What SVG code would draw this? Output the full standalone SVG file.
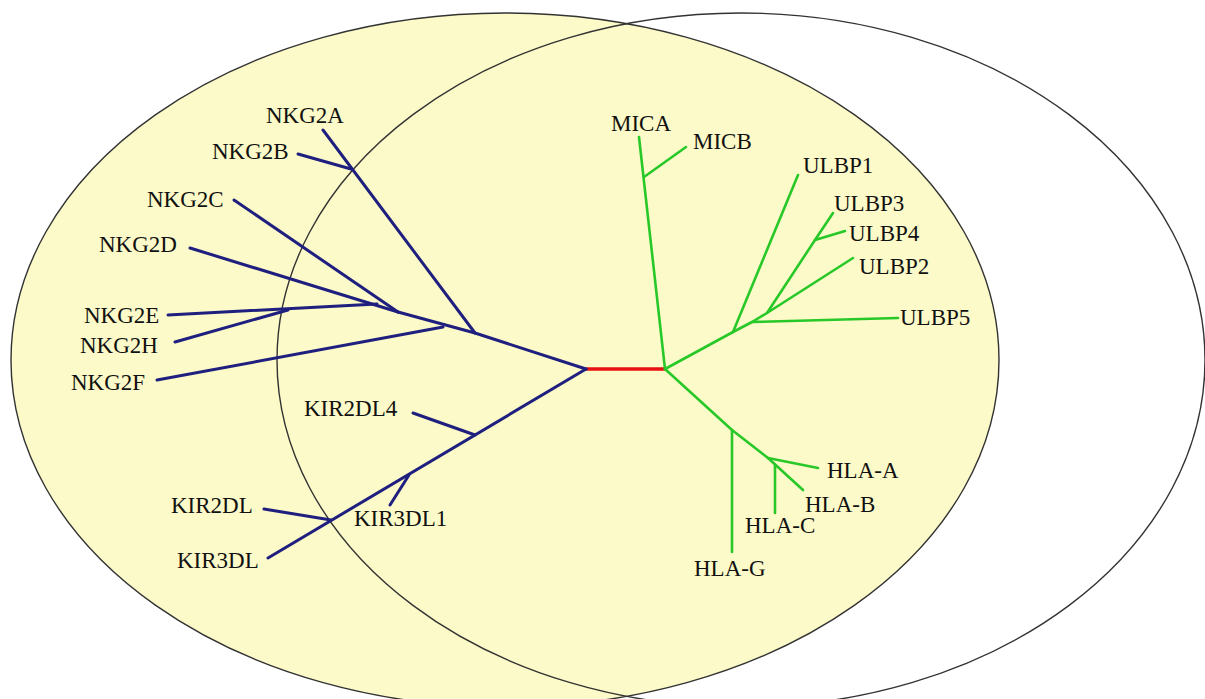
<svg xmlns="http://www.w3.org/2000/svg" width="1205" height="699" viewBox="0 0 1205 699">
<style>
.lbl{font-family:"Liberation Serif","Times New Roman",serif;font-size:23px;fill:#111}
.b{stroke:#1f1f7f;stroke-width:3;fill:none;stroke-linecap:round;stroke-linejoin:round}
.g{stroke:#28c828;stroke-width:2.6;fill:none;stroke-linecap:round;stroke-linejoin:round}
.r{stroke:#e81010;stroke-width:3.5;fill:none}
.ell{stroke:#333;stroke-width:1.4}
</style>
<rect width="1205" height="699" fill="#fff"/>
<g id="sets">
<ellipse id="setLeft" class="ell" cx="505" cy="360" rx="494" ry="347" fill="#fcfac8"/>
<ellipse id="setRight" class="ell" cx="741" cy="360" rx="464" ry="347" fill="none"/>
</g>
<g id="connectors">
<line class="r" x1="586" y1="369" x2="665" y2="369"/>
<polyline class="b" points="586,369 475,333 398,312"/>
<line class="b" x1="323" y1="130" x2="475" y2="333"/>
<line class="b" x1="298" y1="154" x2="351" y2="169"/>
<line class="b" x1="234" y1="200" x2="398" y2="312"/>
<line class="b" x1="190" y1="248" x2="398" y2="312"/>
<line class="b" x1="168" y1="315" x2="377" y2="304"/>
<line class="b" x1="175" y1="342" x2="288" y2="310"/>
<line class="b" x1="157" y1="380" x2="443" y2="327"/>
<line class="b" x1="586" y1="369" x2="268" y2="558"/>
<line class="b" x1="413" y1="413" x2="475" y2="435"/>
<line class="b" x1="390" y1="505" x2="409" y2="475"/>
<line class="b" x1="264" y1="509" x2="331" y2="520"/>
<line class="g" x1="665" y1="369" x2="639" y2="137"/>
<line class="g" x1="644" y1="177" x2="686" y2="147"/>
<polyline class="g" points="665,369 733,332 752,322 767,313 815,240 833,213"/>
<line class="g" x1="733" y1="332" x2="798" y2="175"/>
<line class="g" x1="752" y1="322" x2="898" y2="318"/>
<line class="g" x1="767" y1="313" x2="853" y2="258"/>
<line class="g" x1="815" y1="240" x2="845" y2="231"/>
<polyline class="g" points="665,369 732,430 768,458 818,468"/>
<line class="g" x1="768" y1="458" x2="803" y2="490"/>
<line class="g" x1="732" y1="430" x2="732" y2="552"/>
<line class="g" x1="775" y1="465" x2="775" y2="513"/>
</g>
<g id="n-NKG2A"><text class="lbl" x="266" y="123">NKG2A</text></g>
<g id="n-NKG2B"><text class="lbl" x="212" y="159">NKG2B</text></g>
<g id="n-NKG2C"><text class="lbl" x="147" y="207">NKG2C</text></g>
<g id="n-NKG2D"><text class="lbl" x="99" y="252">NKG2D</text></g>
<g id="n-NKG2E"><text class="lbl" x="84" y="323">NKG2E</text></g>
<g id="n-NKG2H"><text class="lbl" x="80" y="353">NKG2H</text></g>
<g id="n-NKG2F"><text class="lbl" x="71" y="390">NKG2F</text></g>
<g id="n-KIR2DL4"><text class="lbl" x="304" y="416">KIR2DL4</text></g>
<g id="n-KIR2DL"><text class="lbl" x="171" y="513">KIR2DL</text></g>
<g id="n-KIR3DL1"><text class="lbl" x="354" y="526">KIR3DL1</text></g>
<g id="n-KIR3DL"><text class="lbl" x="177" y="568">KIR3DL</text></g>
<g id="n-MICA"><text class="lbl" x="611" y="131">MICA</text></g>
<g id="n-MICB"><text class="lbl" x="693" y="149">MICB</text></g>
<g id="n-ULBP1"><text class="lbl" x="803" y="173">ULBP1</text></g>
<g id="n-ULBP3"><text class="lbl" x="834" y="211">ULBP3</text></g>
<g id="n-ULBP4"><text class="lbl" x="849" y="241">ULBP4</text></g>
<g id="n-ULBP2"><text class="lbl" x="859" y="274">ULBP2</text></g>
<g id="n-ULBP5"><text class="lbl" x="900" y="325">ULBP5</text></g>
<g id="n-HLA-A"><text class="lbl" x="827" y="478">HLA-A</text></g>
<g id="n-HLA-B"><text class="lbl" x="805" y="512">HLA-B</text></g>
<g id="n-HLA-C"><text class="lbl" x="745" y="533">HLA-C</text></g>
<g id="n-HLA-G"><text class="lbl" x="694" y="576">HLA-G</text></g>
</svg>
